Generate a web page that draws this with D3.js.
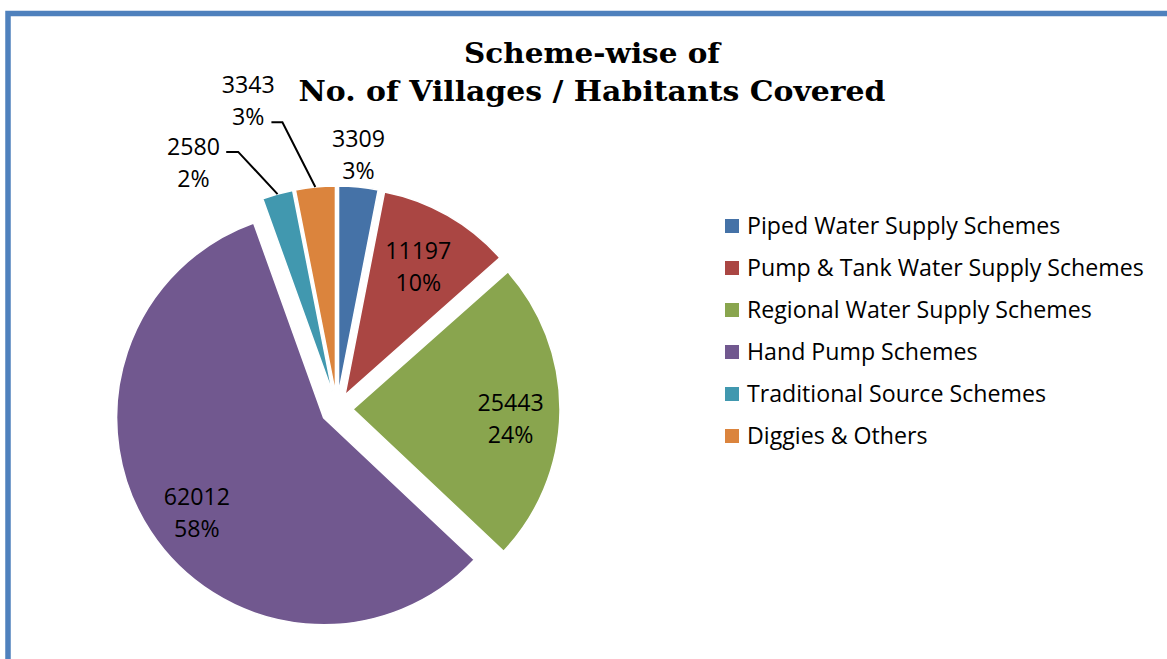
<!DOCTYPE html>
<html>
<head>
<meta charset="utf-8">
<script src="https://cdn.jsdelivr.net/npm/d3@7"></script>
<style>
  html, body { margin: 0; padding: 0; background: #fff; }
  svg { display: block; }
</style>
</head>
<body>
<svg id="chart" width="1167" height="659"></svg>
<script>
// ---- data ----
const categories = [
  "Piped Water Supply Schemes",
  "Pump & Tank Water Supply Schemes",
  "Regional Water Supply Schemes",
  "Hand Pump Schemes",
  "Traditional Source Schemes",
  "Diggies & Others"
];
const values = [3309, 11197, 25443, 62012, 2580, 3343];
const percentLabels = ["3%", "10%", "24%", "58%", "2%", "3%"];
const titleLines = ["Scheme-wise of", "No. of Villages / Habitants Covered"];

// ---- styles / layout ----
const colors = ["#4572A7", "#AA4643", "#89A54E", "#71588F", "#4198AF", "#DB843D"];
const W = 1167, H = 659;
const cx = 337, cy = 409, R = 207, explode = 16;
const labelFont = "'Open Sans', 'Noto Sans', sans-serif";
// label placement per slice (polar offsets from slice middle, relative to exploded centre)
const labelLayout = [
  { angOff: -0.7, r: 238 },
  { angOff: 0.2, r: 147 },
  { angOff: 2.7, r: 158 },
  { angOff: -3.9, r: 159 },
  { angOff: -15.7, r: 269, elbow: { angOff: -5.9, r: 259.5 }, hx: -12 },
  { angOff: -11.1, r: 304, elbow: { angOff: -5.5, r: 276 }, hx: -11 }
];

const svg = d3.select("#chart");

// frame
svg.append("rect")
  .attr("x", 8).attr("y", 13.5)
  .attr("width", W + 20).attr("height", H + 20)
  .attr("fill", "none")
  .attr("stroke", "#4F81BD")
  .attr("stroke-width", 5.5);

// title
const titleWidths = [256, 587];
const title = svg.append("text")
  .attr("text-anchor", "middle")
  .attr("font-family", "'DejaVu Serif', serif")
  .attr("font-weight", "bold")
  .attr("font-size", 27)
  .attr("fill", "#000");
title.selectAll("tspan").data(titleLines).join("tspan")
  .attr("x", 592).attr("y", (d, i) => 63 + i * 38)
  .text(d => d);
title.selectAll("tspan").each(function (d, i) {
  const len = this.getComputedTextLength();
  if (len > 0) d3.select(this).attr("textLength", titleWidths[i]).attr("lengthAdjust", "spacingAndGlyphs");
});

// pie
const pie = d3.pie().sort(null).value(d => d)(values);
const arc = d3.arc().innerRadius(0).outerRadius(R);
const g = svg.append("g").attr("transform", `translate(${cx},${cy})`);

function polar(angleRad, r) { return [Math.sin(angleRad) * r, -Math.cos(angleRad) * r]; }

const slices = g.selectAll("g.slice").data(pie).join("g")
  .attr("class", "slice")
  .attr("transform", d => {
    const [x, y] = polar((d.startAngle + d.endAngle) / 2, explode);
    return `translate(${x},${y})`;
  });

slices.append("path")
  .attr("d", arc)
  .attr("fill", (d, i) => colors[i])
  .attr("stroke", "#fff")
  .attr("stroke-width", 1.5);

// legend (font size fitted so the longest entry spans the reference width)
const legend = svg.append("g").attr("transform", "translate(725,226)");
const items = legend.selectAll("g").data(categories).join("g")
  .attr("transform", (d, i) => `translate(0,${i * 42})`);
items.append("rect")
  .attr("x", 0).attr("y", -7).attr("width", 14).attr("height", 14)
  .attr("fill", (d, i) => colors[i]);
const legTexts = items.append("text")
  .attr("x", 22).attr("y", 7.5)
  .attr("font-family", labelFont)
  .attr("font-size", 20)
  .attr("fill", "#000")
  .text(d => d);
let maxLen = 0;
legTexts.each(function () { maxLen = Math.max(maxLen, this.getComputedTextLength()); });
let fs = 21.5;
if (maxLen > 0) fs = Math.max(19, Math.min(24, 20 * 397 / maxLen));
legTexts.attr("font-size", fs);

// labels
const lineH = 32;
slices.each(function (d, i) {
  const s = d3.select(this);
  const mid = (d.startAngle + d.endAngle) / 2;
  const L = labelLayout[i];
  const [lx, ly] = polar(mid + L.angOff * Math.PI / 180, L.r);
  const t = s.append("text")
    .attr("text-anchor", "middle")
    .attr("font-family", labelFont)
    .attr("font-size", fs)
    .attr("fill", "#000");
  t.append("tspan").attr("x", lx).attr("y", ly - lineH / 2 + 7.5).text(values[i]);
  t.append("tspan").attr("x", lx).attr("y", ly + lineH / 2 + 7.5).text(percentLabels[i]);
  if (L.elbow) {
    const p0 = polar(mid, R);
    const p1 = polar(mid + L.elbow.angOff * Math.PI / 180, L.elbow.r);
    const p2 = [p1[0] + L.hx, p1[1]];
    s.append("path")
      .attr("d", d3.line()([p0, p1, p2]))
      .attr("fill", "none")
      .attr("stroke", "#000")
      .attr("stroke-width", 2);
  }
});
</script>
</body>
</html>
